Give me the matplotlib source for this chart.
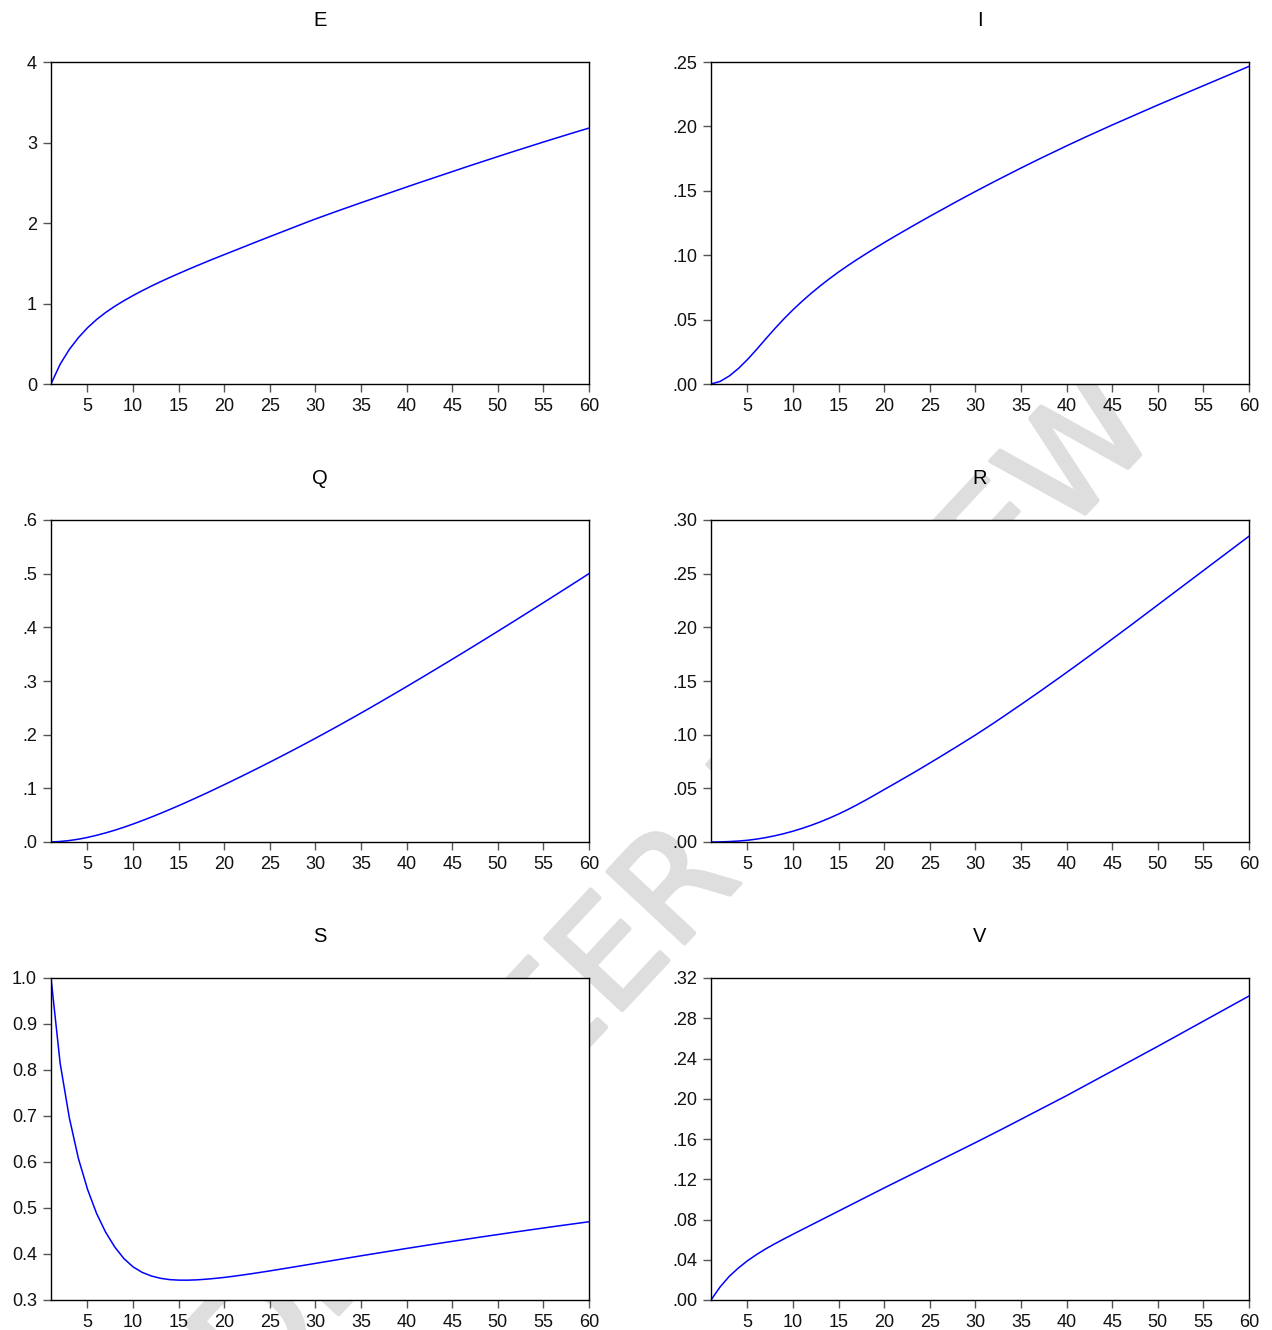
import numpy as np
import matplotlib as mpl
import matplotlib.pyplot as plt
import matplotlib.patheffects as pe
from matplotlib.ticker import FixedLocator, FixedFormatter

periods = list(range(1, 61))

eVals = [0.000, 0.245, 0.428, 0.575, 0.698, 0.801, 0.889, 0.966, 1.035, 1.099,
         1.159, 1.216, 1.270, 1.322, 1.372, 1.421, 1.469, 1.516, 1.562, 1.607,
         1.652, 1.697, 1.742, 1.787, 1.831, 1.875, 1.919, 1.963, 2.007, 2.050,
         2.091, 2.132, 2.172, 2.212, 2.252, 2.291, 2.330, 2.369, 2.408, 2.447,
         2.486, 2.524, 2.562, 2.600, 2.638, 2.676, 2.714, 2.751, 2.788, 2.825,
         2.862, 2.898, 2.934, 2.970, 3.006, 3.041, 3.076, 3.111, 3.145, 3.179]

iVals = [0.0000, 0.0020, 0.0062, 0.0120, 0.0190, 0.0268, 0.0350, 0.0430, 0.0506, 0.0577,
         0.0643, 0.0705, 0.0763, 0.0818, 0.0870, 0.0919, 0.0966, 0.1011, 0.1055, 0.1098,
         0.1140, 0.1181, 0.1222, 0.1262, 0.1302, 0.1341, 0.1380, 0.1419, 0.1457, 0.1495,
         0.1532, 0.1569, 0.1605, 0.1641, 0.1677, 0.1712, 0.1747, 0.1781, 0.1815, 0.1849,
         0.1882, 0.1915, 0.1947, 0.1979, 0.2011, 0.2042, 0.2073, 0.2104, 0.2135, 0.2166,
         0.2196, 0.2226, 0.2256, 0.2286, 0.2316, 0.2346, 0.2376, 0.2406, 0.2436, 0.2466]

qVals = [0.0000, 0.0010, 0.0027, 0.0052, 0.0085, 0.0125, 0.0170, 0.0220, 0.0275, 0.0335,
         0.0398, 0.0464, 0.0533, 0.0604, 0.0677, 0.0752, 0.0829, 0.0907, 0.0987, 0.1068,
         0.1150, 0.1233, 0.1317, 0.1402, 0.1488, 0.1575, 0.1663, 0.1752, 0.1842, 0.1933,
         0.2025, 0.2118, 0.2212, 0.2307, 0.2403, 0.2500, 0.2598, 0.2697, 0.2796, 0.2896,
         0.2997, 0.3098, 0.3200, 0.3302, 0.3405, 0.3508, 0.3612, 0.3716, 0.3821, 0.3926,
         0.4032, 0.4138, 0.4245, 0.4352, 0.4459, 0.4567, 0.4675, 0.4783, 0.4892, 0.5001]

rVals = [0.0000, 0.0001, 0.0004, 0.0009, 0.0016, 0.0027, 0.0041, 0.0058, 0.0078, 0.0101,
         0.0127, 0.0156, 0.0188, 0.0223, 0.0261, 0.0302, 0.0346, 0.0392, 0.0440, 0.0489,
         0.0537, 0.0586, 0.0635, 0.0685, 0.0736, 0.0787, 0.0839, 0.0891, 0.0944, 0.0997,
         0.1052, 0.1108, 0.1165, 0.1223, 0.1281, 0.1340, 0.1399, 0.1459, 0.1519, 0.1580,
         0.1641, 0.1703, 0.1765, 0.1828, 0.1891, 0.1954, 0.2017, 0.2081, 0.2145, 0.2209,
         0.2273, 0.2337, 0.2401, 0.2465, 0.2529, 0.2593, 0.2657, 0.2721, 0.2785, 0.2849]

sVals = [1.0000, 0.8150, 0.6970, 0.6080, 0.5410, 0.4880, 0.4470, 0.4150, 0.3900, 0.3720,
         0.3600, 0.3522, 0.3472, 0.3443, 0.3432, 0.3431, 0.3438, 0.3452, 0.3470, 0.3491,
         0.3516, 0.3543, 0.3572, 0.3602, 0.3633, 0.3665, 0.3697, 0.3730, 0.3763, 0.3796,
         0.3829, 0.3862, 0.3895, 0.3928, 0.3961, 0.3993, 0.4025, 0.4057, 0.4089, 0.4121,
         0.4152, 0.4183, 0.4214, 0.4245, 0.4275, 0.4305, 0.4335, 0.4365, 0.4394, 0.4423,
         0.4452, 0.4481, 0.4509, 0.4537, 0.4565, 0.4593, 0.4620, 0.4647, 0.4674, 0.4701]

vVals = [0.0000, 0.0130, 0.0235, 0.0318, 0.0390, 0.0452, 0.0508, 0.0559, 0.0607, 0.0654,
         0.0700, 0.0746, 0.0792, 0.0838, 0.0884, 0.0930, 0.0976, 0.1022, 0.1068, 0.1114,
         0.1159, 0.1204, 0.1249, 0.1294, 0.1339, 0.1384, 0.1429, 0.1474, 0.1519, 0.1564,
         0.1610, 0.1656, 0.1702, 0.1749, 0.1796, 0.1843, 0.1890, 0.1937, 0.1984, 0.2031,
         0.2080, 0.2129, 0.2178, 0.2227, 0.2276, 0.2325, 0.2374, 0.2423, 0.2472, 0.2521,
         0.2571, 0.2621, 0.2671, 0.2721, 0.2771, 0.2821, 0.2871, 0.2921, 0.2971, 0.3021]

xTicks = [5, 10, 15, 20, 25, 30, 35, 40, 45, 50, 55, 60]

eTicks = [0, 1, 2, 3, 4]
eLabels = ['0', '1', '2', '3', '4']
iTicks = [0, 0.05, 0.10, 0.15, 0.20, 0.25]
iLabels = ['.00', '.05', '.10', '.15', '.20', '.25']
qTicks = [0, 0.1, 0.2, 0.3, 0.4, 0.5, 0.6]
qLabels = ['.0', '.1', '.2', '.3', '.4', '.5', '.6']
rTicks = [0, 0.05, 0.10, 0.15, 0.20, 0.25, 0.30]
rLabels = ['.00', '.05', '.10', '.15', '.20', '.25', '.30']
sTicks = [0.3, 0.4, 0.5, 0.6, 0.7, 0.8, 0.9, 1.0]
sLabels = ['0.3', '0.4', '0.5', '0.6', '0.7', '0.8', '0.9', '1.0']
vTicks = [0, 0.04, 0.08, 0.12, 0.16, 0.20, 0.24, 0.28, 0.32]
vLabels = ['.00', '.04', '.08', '.12', '.16', '.20', '.24', '.28', '.32']

panels = [
    ('E', eVals, eTicks, eLabels),
    ('I', iVals, iTicks, iLabels),
    ('Q', qVals, qTicks, qLabels),
    ('R', rVals, rTicks, rLabels),
    ('S', sVals, sTicks, sLabels),
    ('V', vVals, vTicks, vLabels),
]


def figCreate():
    mpl.rcParams['font.family'] = ['Liberation Sans', 'DejaVu Sans']
    mpl.rcParams['font.size'] = 13
    fig = plt.figure(figsize=(12.72, 13.3), dpi=100)
    fig.patch.set_facecolor('white')
    # watermark sits behind the panels
    wm = fig.text(0.4756, 0.2707, 'UNDER PEER REVIEW', fontsize=104,
                  color='#dedede', rotation=47, ha='center', va='center',
                  zorder=-5, family='DejaVu Sans')
    wm.set_path_effects([pe.Stroke(linewidth=3, foreground='#dedede',
                                   joinstyle='round', capstyle='round'),
                         pe.Normal()])
    return fig


def addPanel(fig, left, top, title, vals, yTicks, yLabels):
    W, H = 1272.0, 1330.0
    ax = fig.add_axes([left / W, 1 - (top + 322) / H, 538 / W, 322 / H])
    ax.set_facecolor('white')
    ax.plot(periods, vals, color='#0000ff', linewidth=1.1)
    ax.set_xlim(1, 60)
    ax.set_ylim(yTicks[0], yTicks[-1])
    ax.xaxis.set_major_locator(FixedLocator(xTicks))
    ax.yaxis.set_major_locator(FixedLocator(yTicks))
    ax.yaxis.set_major_formatter(FixedFormatter(yLabels))
    ax.tick_params(direction='out', length=6, width=1, color='#555555',
                   labelsize=13, labelcolor='#111111')
    ax.tick_params(axis='x', pad=4)
    ax.tick_params(axis='y', pad=4)
    for sp in ax.spines.values():
        sp.set_linewidth(1.0)
        sp.set_color('black')
    ax.set_title(title, fontsize=14.5, pad=26)
    return ax


fig = figCreate()
lefts = [51, 711]
tops = [62, 520, 978]
for k in range(len(panels)):
    name, vals, yT, yL = panels[k]
    addPanel(fig, lefts[k % 2], tops[k // 2], name, vals, yT, yL)

plt.savefig('out.png', dpi=100)
plt.close('all')
